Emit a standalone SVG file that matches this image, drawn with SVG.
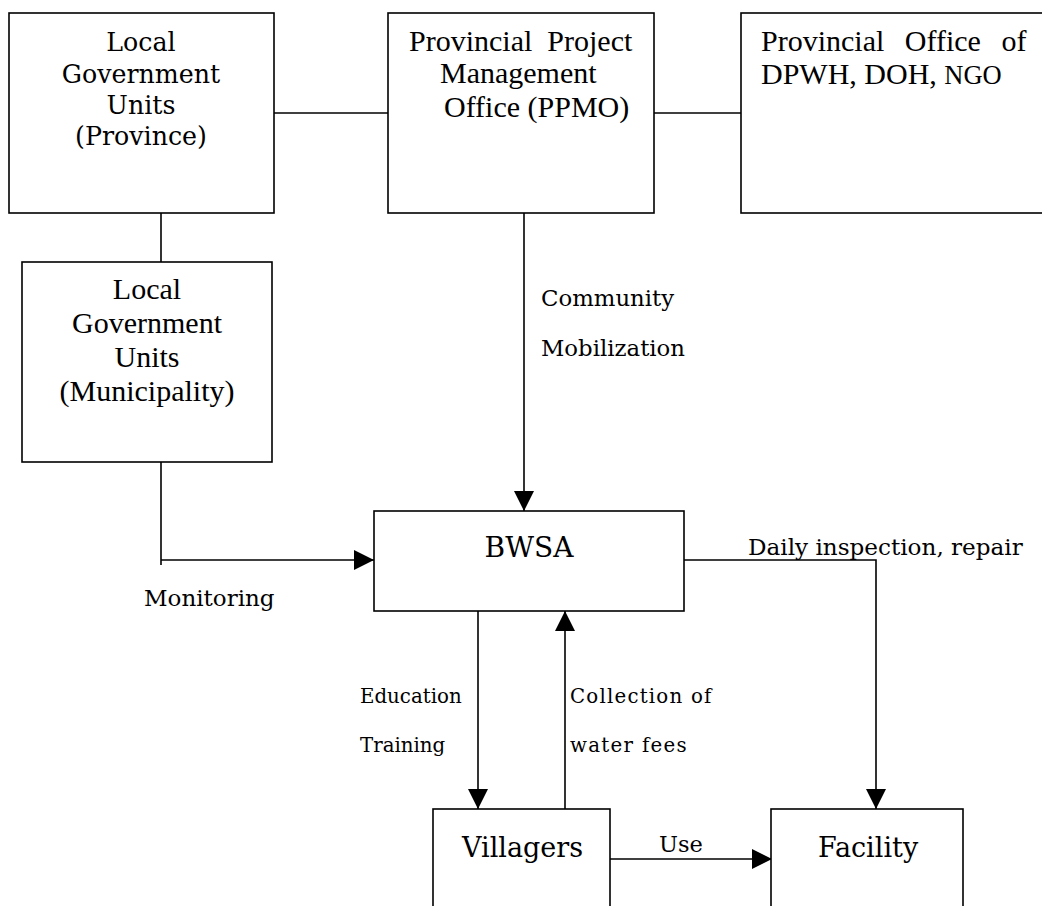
<svg xmlns="http://www.w3.org/2000/svg" width="1042" height="906" viewBox="0 0 1042 906">
<style>
.box{fill:#fff;stroke:#000;stroke-width:1.6}
.ln{fill:none;stroke:#000;stroke-width:1.6}
.c{font-family:"DejaVu Serif","Liberation Serif",serif;fill:#000}
.t{font-family:"Liberation Serif","Times New Roman",serif;fill:#000;font-size:30px}
.mid{text-anchor:middle}
</style>
<defs>
<marker id="ah" markerUnits="userSpaceOnUse" markerWidth="20" markerHeight="20" refX="20" refY="10" orient="auto">
<path d="M0,0 L20,10 L0,20 z" fill="#000"/>
</marker>
</defs>
<rect width="1042" height="906" fill="#fff"/>
<g id="connectors">
<line class="ln" x1="274" y1="113" x2="388" y2="113"/>
<line class="ln" x1="654" y1="113" x2="741" y2="113"/>
<line class="ln" x1="161" y1="213" x2="161" y2="262"/>
<line class="ln" x1="524" y1="213" x2="524" y2="511" marker-end="url(#ah)"/>
<polyline class="ln" points="161,462 161,565"/>
<line class="ln" x1="161" y1="560" x2="374" y2="560" marker-end="url(#ah)"/>
<polyline class="ln" points="684,560 876,560 876,809" marker-end="url(#ah)"/>
<line class="ln" x1="478" y1="611" x2="478" y2="809" marker-end="url(#ah)"/>
<line class="ln" x1="565" y1="809" x2="565" y2="611" marker-end="url(#ah)"/>
<line class="ln" x1="610" y1="859" x2="772" y2="859" marker-end="url(#ah)"/>
<text class="c" font-size="22.8" x="541" y="306">Community</text>
<text class="c" font-size="22.8" x="541" y="356">Mobilization</text>
<text class="c" font-size="23" x="144" y="606">Monitoring</text>
<text class="c" font-size="19.8" x="360" y="703">Education</text>
<text class="c" font-size="19.8" x="360" y="752">Training</text>
<text class="c" font-size="19.8" x="570" y="703" letter-spacing="1.2">Collection of</text>
<text class="c" font-size="19.8" x="570" y="752" letter-spacing="1.3">water fees</text>
<text class="c" font-size="23.1" x="748" y="555">Daily inspection, repair</text>
<text class="c" font-size="22.5" x="659" y="852">Use</text>
</g>
<g id="lgu-province">
<rect class="box" x="9" y="13" width="265" height="200"/>
<text class="c mid" font-size="25.3" x="141" y="51">Local</text>
<text class="c mid" font-size="25.3" x="141" y="83">Government</text>
<text class="c mid" font-size="25.3" x="141" y="114">Units</text>
<text class="c mid" font-size="25.3" x="141" y="145">(Province)</text>
</g>
<g id="ppmo">
<rect class="box" x="388" y="13" width="266" height="200"/>
<text class="t" x="409" y="51" word-spacing="7.5">Provincial Project</text>
<text class="t" x="440" y="83">Management</text>
<text class="t" x="444" y="117">Office (PPMO)</text>
</g>
<g id="provincial-office">
<rect class="box" x="741" y="13" width="330" height="200"/>
<text class="t" x="761" y="51" word-spacing="13">Provincial Office of</text>
<text class="t" x="761" y="84">DPWH, DOH, <tspan font-size="26.5">NGO</tspan></text>
</g>
<g id="lgu-municipality">
<rect class="box" x="22" y="262" width="250" height="200"/>
<text class="t mid" x="147" y="299">Local</text>
<text class="t mid" x="147" y="333">Government</text>
<text class="t mid" x="147" y="367">Units</text>
<text class="t mid" x="147" y="401">(Municipality)</text>
</g>
<g id="bwsa">
<rect class="box" x="374" y="511" width="310" height="100"/>
<text class="c mid" font-size="28" x="529" y="557">BWSA</text>
</g>
<g id="villagers">
<rect class="box" x="433" y="809" width="177" height="140"/>
<text class="c" font-size="27" x="462" y="857">Villagers</text>
</g>
<g id="facility">
<rect class="box" x="771" y="809" width="192" height="140"/>
<text class="c" font-size="27" x="818" y="857">Facility</text>
</g>
</svg>
